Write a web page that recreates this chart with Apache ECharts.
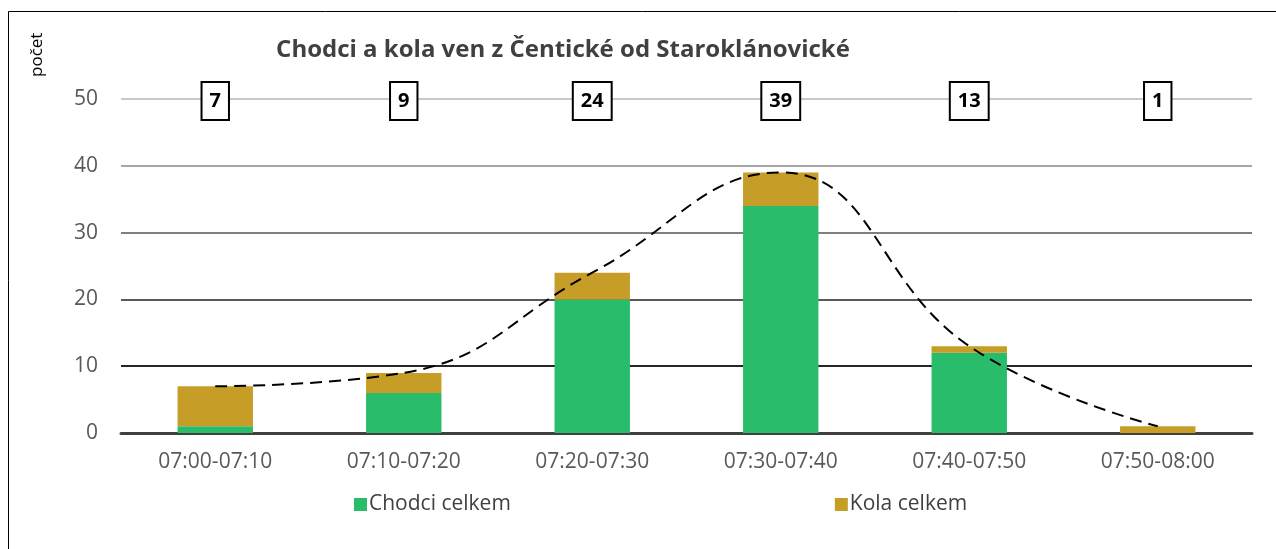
<!DOCTYPE html>
<html>
<head>
<meta charset="utf-8">
<script src="https://cdn.jsdelivr.net/npm/echarts@6/dist/echarts.min.js"></script>
<style>
  html, body { margin: 0; padding: 0; background: #fff; }
  #chart { width: 1276px; height: 549px; }
</style>
</head>
<body>
<div id="chart"></div>
<script>
// data
var categories = ["07:00-07:10", "07:10-07:20", "07:20-07:30", "07:30-07:40", "07:40-07:50", "07:50-08:00"];
var chodci = [1, 6, 20, 34, 12, 0];
var kola = [6, 3, 4, 5, 1, 1];
var totals = chodci.map(function (v, i) { return v + kola[i]; });

var myChart = echarts.init(document.getElementById("chart"));
var font = "'Open Sans', 'Noto Sans', sans-serif";

var option = {
    animation: false,
    textStyle: { fontFamily: font },
    graphic: [
        // rámeček grafu
        {
            type: "rect",
            shape: { x: 8.5, y: 11.5, width: 1300, height: 600 },
            style: { fill: "none", stroke: "#000", lineWidth: 1 },
            silent: true
        },
        // název osy y
        {
            type: "text",
            x: 29,
            y: 77,
            rotation: Math.PI / 2,
            style: { text: "počet", fontSize: 17, fill: "#000", fontFamily: font },
            silent: true
        }
    ],
    title: {
        text: "Chodci a kola ven z Čentické od Staroklánovické",
        left: 558,
        textAlign: "center",
        top: 33,
        textStyle: { fontSize: 24, fontWeight: "bold", color: "#404040", fontFamily: font }
    },
    legend: {
        left: 349,
        top: 489,
        itemWidth: 13,
        itemHeight: 13,
        itemGap: 324,
        icon: "rect",
        data: ["Chodci celkem", "Kola celkem"],
        textStyle: { fontSize: 21, color: "#404040", padding: [0, 0, 0, -3] }
    },
    grid: {
        left: 121,
        right: 24,
        top: 99,
        bottom: 116
    },
    xAxis: [
        {
            type: "category",
            data: categories,
            axisTick: { show: false },
            axisLine: { lineStyle: { color: "#404040", width: 3 } },
            axisLabel: { color: "#595959", fontSize: 21, margin: 19 }
        },
        {
            // popisky součtů v rámečcích
            type: "category",
            position: "top",
            data: totals,
            axisTick: { show: false },
            axisLine: { show: false },
            axisLabel: {
                color: "#000",
                fontSize: 20,
                fontWeight: "bold",
                lineHeight: 22,
                margin: -20,
                backgroundColor: "#fff",
                borderColor: "#000",
                borderWidth: 2,
                padding: [7, 7, 7, 7]
            }
        }
    ],
    yAxis: {
        type: "value",
        min: 0,
        max: 50,
        interval: 10,
        axisLine: { show: false },
        axisTick: { show: false },
        axisLabel: { color: "#595959", fontSize: 21, margin: 23 },
        splitLine: {
            lineStyle: {
                width: 2,
                color: ["#404040", "#262626", "#595959", "#7f7f7f", "#a6a6a6", "#c8c8c8"]
            }
        }
    },
    series: [
        {
            name: "Chodci celkem",
            type: "bar",
            stack: "celkem",
            barCategoryGap: "60%",
            itemStyle: { color: "#29bd6b" },
            data: chodci
        },
        {
            name: "Kola celkem",
            type: "bar",
            stack: "celkem",
            barCategoryGap: "60%",
            itemStyle: { color: "#c59d27" },
            data: kola
        },
        {
            name: "trend",
            type: "line",
            smooth: 0.45,
            showSymbol: false,
            z: 5,
            lineStyle: { color: "#000", width: 2, type: [12, 7] },
            data: totals
        }
    ]
};

myChart.setOption(option);
window.addEventListener("resize", function () {
    myChart.resize();
});
</script>
</body>
</html>
